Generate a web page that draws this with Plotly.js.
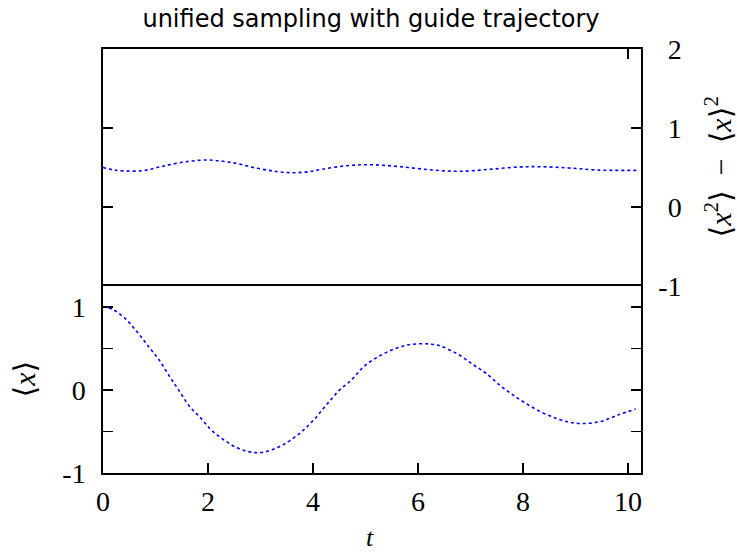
<!DOCTYPE html>
<html>
<head>
<meta charset="utf-8">
<script src="https://cdn.plot.ly/plotly-3.0.1.min.js"></script>
<style>html,body{margin:0;padding:0;background:#fff;}#chart{width:737px;height:552px;}</style>
</head>
<body>
<div id="chart"></div>
<script>
// lower panel: <x>(t)
const tMean = [0, 0.18, 0.42, 0.66, 0.87, 1.07, 1.27, 1.44, 1.65, 1.85, 2.06, 2.30, 2.53, 2.75, 2.91, 3.05, 3.22, 3.40, 3.56, 3.79, 4.03, 4.27, 4.51, 4.75, 4.95, 5.19, 5.50, 5.80, 6.05, 6.25, 6.42, 6.76, 7.06, 7.30, 7.57, 7.81, 8.05, 8.36, 8.67, 8.90, 9.14, 9.48, 9.82, 10.15];
const xMean = [1.0, 0.97, 0.86, 0.69, 0.52, 0.36, 0.16, 0.0, -0.20, -0.33, -0.48, -0.60, -0.69, -0.74, -0.755, -0.75, -0.72, -0.67, -0.61, -0.50, -0.35, -0.17, 0.0, 0.13, 0.27, 0.38, 0.48, 0.54, 0.555, 0.55, 0.53, 0.43, 0.30, 0.20, 0.05, -0.06, -0.16, -0.27, -0.35, -0.39, -0.405, -0.38, -0.30, -0.23];
// upper panel: variance <x^2> - <x>^2
const tVar = [0, 0.2, 0.42, 0.76, 1.10, 1.51, 1.99, 2.47, 2.94, 3.30, 3.59, 3.90, 4.17, 4.65, 5.12, 5.67, 6.28, 6.82, 7.37, 7.92, 8.33, 8.87, 9.41, 10.16];
const xVar = [0.50, 0.47, 0.456, 0.46, 0.51, 0.566, 0.595, 0.56, 0.49, 0.45, 0.434, 0.445, 0.477, 0.523, 0.535, 0.51, 0.468, 0.452, 0.477, 0.506, 0.51, 0.494, 0.468, 0.464];

const xTickVals = [0, 2, 4, 6, 8, 10];
const xTickText = ['0', '2', '4', '6', '8', '10'];
const yTickVals = [-1, 0, 1];
const yTickText = ['-1', '0', '1'];
const y2TickVals = [-1, 0, 1, 2];
const y2TickText = ['-1', '0', '1', '2'];

const titleText = 'unified sampling with guide trajectory';
const yTitle = '⟨<i>x</i>⟩';
const y2Title = '⟨<i>x</i><sup>2</sup>⟩\u2002−\u2002⟨<i>x</i>⟩<sup>2</sup>';
const xTitle = '<i>t</i>';

const ghost = '<span style="color:rgba(0,0,0,0)">-</span>';
const y2Labels = y2TickText.map(s => s.charAt(0) === '-' ? s : ghost + s);

const serif = {family: 'Liberation Serif, DejaVu Serif, serif', size: 28, color: '#000'};
const titleSerif = {family: 'Liberation Serif, DejaVu Serif, serif', size: 30, color: '#000'};
const lineStyle = {color: '#0000ff', width: 1.6, dash: 'dot', shape: 'spline'};

const traces = [
  {x: tMean, y: xMean, xaxis: 'x', yaxis: 'y', mode: 'lines', line: lineStyle, hoverinfo: 'skip'},
  {x: tVar, y: xVar, xaxis: 'x2', yaxis: 'y2', mode: 'lines', line: lineStyle, hoverinfo: 'skip'}
];

const axBase = {showline: true, linecolor: '#000', linewidth: 1.7, ticks: 'inside', ticklen: 10, tickwidth: 1.5, tickcolor: '#000', showgrid: false, zeroline: false, tickfont: serif};

const split = 187 / 424;

const layout = {
  width: 737, height: 552,
  margin: {l: 103, r: 96, t: 49, b: 79},
  paper_bgcolor: '#fff', plot_bgcolor: '#fff',
  showlegend: false,
  title: {text: titleText, font: {family: 'DejaVu Sans, sans-serif', size: 24, color: '#000'}, x: 371 / 737, xref: 'container', xanchor: 'center', y: 1 - 19 / 552, yref: 'container', yanchor: 'middle'},
  xaxis: Object.assign({}, axBase, {range: [0, 10.25], domain: [0, 1], anchor: 'y', mirror: true, tickvals: xTickVals, ticktext: xTickText, ticklabelstandoff: 3}),
  yaxis: Object.assign({}, axBase, {range: [-1, 1.25], domain: [0, split], anchor: 'x', mirror: 'ticks', tickvals: yTickVals, ticktext: yTickText, ticklabelstandoff: 10,
    minor: {dtick: 0.5, tick0: 0, ticks: 'inside', ticklen: 10, tickwidth: 1.5, tickcolor: '#000', showgrid: false}}),
  xaxis2: Object.assign({}, axBase, {range: [0, 10.25], domain: [0, 1], anchor: 'y2', side: 'top', mirror: false, tickvals: [10], showticklabels: false}),
  yaxis2: Object.assign({}, axBase, {range: [-1, 2], domain: [split, 1], anchor: 'x2', side: 'right', mirror: 'ticks', tickvals: y2TickVals, ticktext: y2Labels, ticklabelstandoff: 10}),
  annotations: [
    {text: yTitle, xref: 'paper', yref: 'paper', x: (24 - 103) / 538, y: split / 2, textangle: -90, showarrow: false, font: titleSerif, xanchor: 'center', yanchor: 'middle'},
    {text: y2Title, xref: 'paper', yref: 'paper', x: (718 - 103) / 538, y: (split + 1) / 2, textangle: -90, showarrow: false, font: titleSerif, xanchor: 'center', yanchor: 'middle'},
    {text: xTitle, xref: 'paper', yref: 'paper', x: (370 - 103) / 538, y: (473 - 537) / 424, showarrow: false, font: Object.assign({}, titleSerif, {size: 26}), xanchor: 'center', yanchor: 'middle', borderpad: 0}
  ]
};

Plotly.newPlot('chart', traces, layout, {staticPlot: true, displayModeBar: false});
</script>
</body>
</html>
